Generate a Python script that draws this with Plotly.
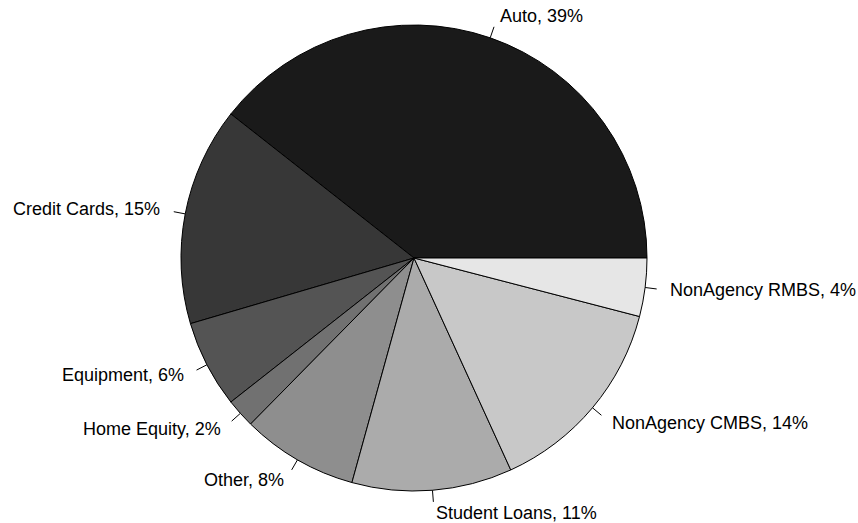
import math
import plotly.graph_objects as go

categories = ["Auto", "Credit Cards", "Equipment", "Home Equity", "Other",
              "Student Loans", "NonAgency CMBS", "NonAgency RMBS"]
shares = [39, 15, 6, 2, 8, 11, 14, 4]
colors = ["#1a1a1a", "#373737", "#545454", "#717171", "#8e8e8e",
          "#ababab", "#c8c8c8", "#e6e6e6"]
labels = [f"{c}, {v}%" for c, v in zip(categories, shares)]

W, H = 858, 523
cx, cy, R = 414, 258, 233

total = sum(shares)
first_deg = 360 * shares[0] / total

fig = go.Figure(go.Pie(
    labels=categories, values=shares, sort=False,
    direction="counterclockwise", rotation=90 - first_deg,
    marker=dict(colors=colors, line=dict(color="#000000", width=1)),
    textinfo="none", hoverinfo="label+percent", showlegend=False,
    domain=dict(x=[(cx - R) / W, (cx + R) / W],
                y=[(H - cy - R) / H, (H - cy + R) / H]),
))

cum = 0
annotations, shapes = [], []
for lab, v in zip(labels, shares):
    mid = 2 * math.pi * (cum + v / 2) / total
    cum += v
    c, s = math.cos(mid), math.sin(mid)

    def px(r):
        return (cx + r * R * c) / W, (H - cy + r * R * s) / H
    x0, y0 = px(1.0)
    x1, y1 = px(1.05)
    shapes.append(dict(type="line", xref="paper", yref="paper",
                       x0=x0, y0=y0, x1=x1, y1=y1,
                       line=dict(color="#000000", width=1)))
    tx, ty = px(1.1)
    annotations.append(dict(x=tx, y=ty, xref="paper", yref="paper",
                            text=lab, showarrow=False,
                            xanchor="left" if c > 0 else "right",
                            yanchor="middle",
                            font=dict(family="Liberation Sans, Arial", size=18,
                                      color="#000000")))

fig.update_layout(width=W, height=H, margin=dict(l=0, r=0, t=0, b=0),
                  paper_bgcolor="white", plot_bgcolor="white",
                  annotations=annotations, shapes=shapes)
fig.write_html("out.html", config={"displayModeBar": False},
               post_script="document.body.style.margin='0';document.body.style.overflow='hidden';")
